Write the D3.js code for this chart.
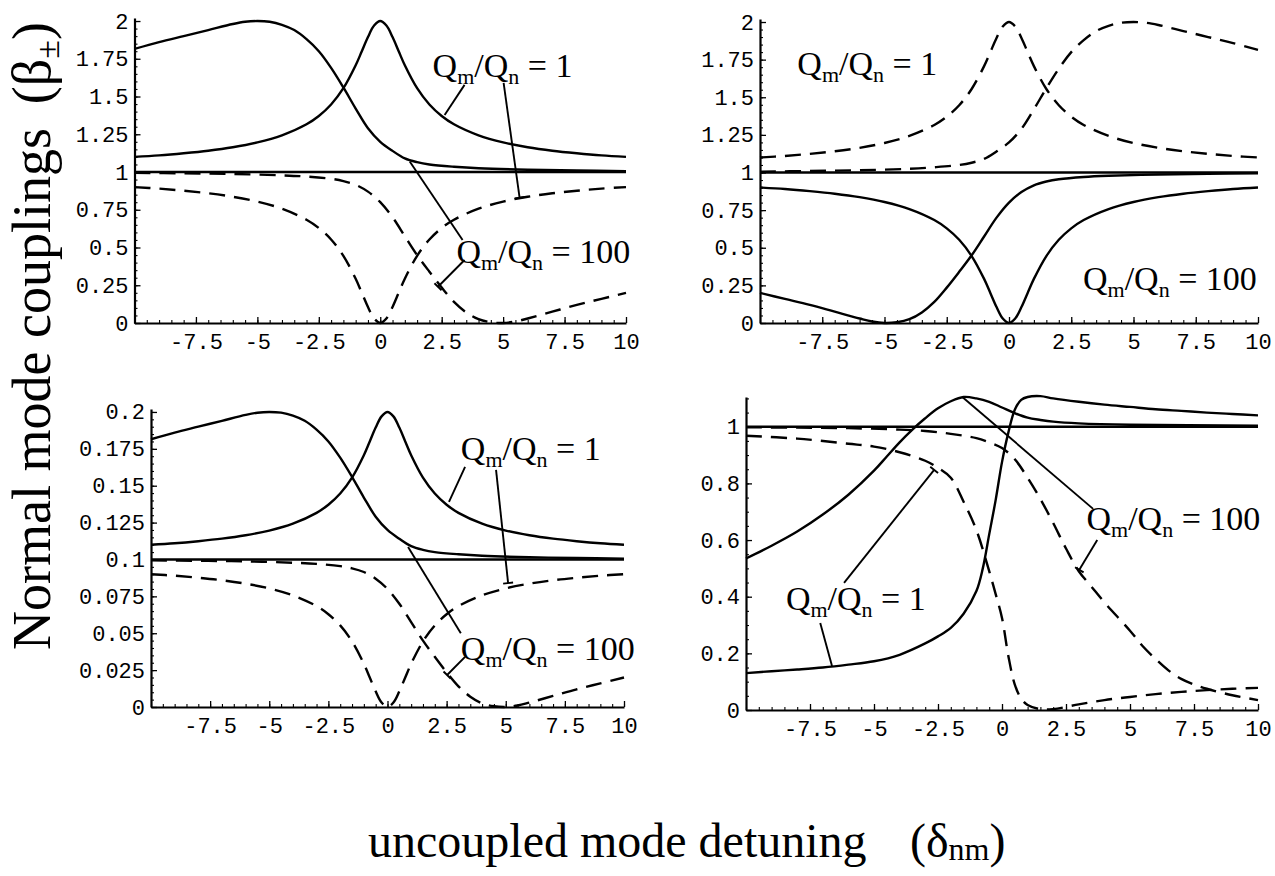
<!DOCTYPE html>
<html>
<head>
<meta charset="utf-8">
<script src="https://cdn.jsdelivr.net/npm/d3@7"></script>
<style>
  body { margin: 0; background: #fff; }
  svg { display: block; }
</style>
</head>
<body>
<svg id="chart" width="1275" height="876"></svg>
<script>
// ---------- detuning grids ----------
const xNarrow = [-10,-9,-8,-7,-6,-5,-4,-3,-2.5,-2,-1.5,-1,-0.75,-0.5,-0.25,0,0.25,0.5,0.75,1,1.5,2,2.5,3,4,5,6,7,8,9,10];
const xBroadL = [-10,-9,-8,-7,-6,-5.5,-5,-4.5,-4,-3.5,-3,-2.5,-2,-1.5,-1,-0.5,0,0.5,1,1.5,2,3,4,6,8,10];
const xBroadR = [-10,-8,-6,-4,-3,-2,-1.5,-1,-0.5,0,0.5,1,1.5,2,2.5,3,3.5,4,4.5,5,5.5,6,7,8,9,10];

// ---------- upper panels: couplings beta_+ / beta_- ----------
const tlUpperNarrow = [1.100,1.110,1.124,1.141,1.164,1.196,1.243,1.316,1.371,1.447,1.555,1.707,1.800,1.894,1.970,2.000,1.970,1.894,1.800,1.707,1.555,1.447,1.371,1.316,1.243,1.196,1.164,1.141,1.124,1.110,1.100];
const tlLowerNarrow = [0.900,0.890,0.876,0.859,0.836,0.804,0.757,0.684,0.629,0.553,0.445,0.293,0.200,0.106,0.030,0.000,0.030,0.106,0.200,0.293,0.445,0.553,0.629,0.684,0.757,0.804,0.836,0.859,0.876,0.890,0.900];
const tlUpperBroad = [1.815,1.86,1.90,1.94,1.98,1.995,2.0,1.995,1.975,1.94,1.88,1.80,1.69,1.56,1.42,1.29,1.20,1.14,1.09,1.065,1.05,1.035,1.025,1.015,1.01,1.005];
const tlLowerBroad = [0.994,0.991,0.987,0.978,0.97,0.955,0.94,0.915,0.87,0.80,0.70,0.575,0.45,0.34,0.235,0.14,0.07,0.025,0.005,0.0,0.01,0.03,0.075,0.12,0.16,0.2];

const trUpperBroad = [1.005,1.01,1.015,1.025,1.035,1.05,1.065,1.09,1.14,1.20,1.29,1.42,1.56,1.69,1.80,1.88,1.94,1.975,1.995,2.0,1.995,1.98,1.94,1.90,1.86,1.815];
const trLowerBroad = [0.2,0.16,0.12,0.075,0.03,0.01,0.0,0.005,0.025,0.07,0.14,0.235,0.34,0.45,0.575,0.70,0.80,0.87,0.915,0.94,0.955,0.97,0.978,0.987,0.991,0.994];

// ---------- lower left panel ----------
const blUpperNarrow = [0.1100,0.1110,0.1124,0.1141,0.1164,0.1196,0.1243,0.1316,0.1371,0.1447,0.1555,0.1707,0.1800,0.1894,0.1970,0.2000,0.1970,0.1894,0.1800,0.1707,0.1555,0.1447,0.1371,0.1316,0.1243,0.1196,0.1164,0.1141,0.1124,0.1110,0.1100];
const blLowerNarrow = [0.0900,0.0890,0.0876,0.0859,0.0836,0.0804,0.0757,0.0684,0.0629,0.0553,0.0445,0.0293,0.0200,0.0106,0.0030,0.0000,0.0030,0.0106,0.0200,0.0293,0.0445,0.0553,0.0629,0.0684,0.0757,0.0804,0.0836,0.0859,0.0876,0.0890,0.0900];
const blUpperBroad = [0.1815,0.186,0.190,0.194,0.198,0.1995,0.200,0.1995,0.1975,0.194,0.188,0.180,0.169,0.156,0.142,0.129,0.120,0.114,0.109,0.1065,0.105,0.1035,0.1025,0.1015,0.101,0.1005];
const blLowerBroad = [0.0994,0.0991,0.0987,0.0978,0.097,0.0955,0.094,0.0915,0.087,0.080,0.070,0.0575,0.045,0.034,0.0235,0.014,0.007,0.0025,0.0005,0.0,0.001,0.003,0.0075,0.012,0.016,0.020];

// ---------- lower right panel ----------
const xBrS1 = [-10,-9,-8,-7,-6,-5,-4.5,-4,-3.5,-3,-2.5,-2,-1.5,-1,-0.5,0,0.5,1,1.5,2,3,5,10];
const brS1 = [0.535,0.58,0.63,0.69,0.76,0.845,0.895,0.945,0.99,1.03,1.065,1.09,1.105,1.10,1.088,1.068,1.048,1.032,1.024,1.018,1.012,1.007,1.004];
const xBrS2 = [-10,-9,-8,-7,-6,-5,-4,-3,-2.5,-2,-1.5,-1,-0.75,-0.5,-0.25,0,0.25,0.5,0.75,1,1.5,2,3,4,5,6,7,8,9,10];
const brS2 = [0.13,0.137,0.143,0.15,0.16,0.172,0.195,0.235,0.26,0.29,0.34,0.42,0.5,0.62,0.74,0.875,0.98,1.06,1.095,1.105,1.108,1.10,1.088,1.078,1.07,1.062,1.056,1.05,1.045,1.04];
const xBrD1 = [-10,-8,-6,-5,-4,-3,-2.5,-2,-1.5,-1,-0.5,-0.25,0,0.25,0.5,0.75,1,1.5,2,3,4,5,6,7,8,9,10];
const brD1 = [0.968,0.958,0.94,0.93,0.91,0.88,0.855,0.82,0.735,0.635,0.49,0.41,0.325,0.19,0.09,0.04,0.018,0.003,0.003,0.02,0.035,0.046,0.056,0.064,0.07,0.075,0.078];
const xBrD2 = [-10,-8,-6,-4,-3,-2,-1,-0.5,0,0.5,1,1.5,2,2.5,3,3.5,4,5,5.5,6,6.5,7,7.5,8,9,10];
const brD2 = [0.998,0.997,0.995,0.99,0.985,0.975,0.96,0.945,0.925,0.885,0.82,0.745,0.66,0.57,0.49,0.435,0.38,0.28,0.225,0.18,0.14,0.11,0.09,0.075,0.052,0.035];

// ---------- ticks ----------
const xTicks = [-7.5,-5,-2.5,0,2.5,5,7.5,10];
const xTickLabels = ["-7.5","-5","-2.5","0","2.5","5","7.5","10"];
const yTicksBig = [0,0.25,0.5,0.75,1,1.25,1.5,1.75,2];
const yLabelsBig = ["0","0.25","0.5","0.75","1","1.25","1.5","1.75","2"];
const yTicksSmall = [0,0.025,0.05,0.075,0.1,0.125,0.15,0.175,0.2];
const yLabelsSmall = ["0","0.025","0.05","0.075","0.1","0.125","0.15","0.175","0.2"];
const yTicksBR = [0,0.2,0.4,0.6,0.8,1];
const yLabelsBR = ["0","0.2","0.4","0.6","0.8","1"];

// ---------- annotations (data coords): label anchors and pointer segments ----------
const labelsTL = [[2.13,1.63,"1"],[3.1,0.397,"100"]];
const labelsTR = [[-8.5,1.648,"1"],[2.97,0.22,"100"]];
const labelsBL = [[3.1,0.1675,"1"],[3.1,0.0319,"100"]];
const labelsBR = [[3.3,0.636,"100"],[-8.44,0.353,"1"]];
// [x1, y1, x2, y2, crossbar at end]
const pointersTL = [[3.43,1.577,2.62,1.377,0],[5.02,1.59,5.67,0.83,1],[1.2,1.07,3.35,0.55,0],[3.43,0.417,2.35,0.24,1]];
const pointersTR = [];
const pointersBL = [[3.28,0.1627,2.6,0.139,0],[4.59,0.1607,5.1,0.084,1],[0.87,0.1085,3.1,0.05,0],[3.28,0.034,2.52,0.0217,1]];
const pointersBR = [[-1.55,1.105,3.56,0.71,0],[3.72,0.6,3.02,0.495,1],[-6.17,0.449,-2.65,0.848,1],[-7.1,0.307,-6.64,0.155,0]];

const zip = (xs, ys) => xs.map((v, i) => [v, ys[i]]);

const panels = [
  { xRange: [134.5, 626], yDomain: [0, 2.02], yRange: [323, 18], yTicks: yTicksBig, yLabels: yLabelsBig, yMinor: 0.05, unity: 1,
    curves: [
      { pts: zip(xNarrow, tlUpperNarrow), dash: false },
      { pts: zip(xBroadL, tlUpperBroad), dash: false },
      { pts: zip(xNarrow, tlLowerNarrow), dash: true },
      { pts: zip(xBroadR, tlLowerBroad), dash: true } ],
    labels: labelsTL, pointers: pointersTL },
  { xRange: [760, 1258], yDomain: [0, 2.02], yRange: [323, 19], yTicks: yTicksBig, yLabels: yLabelsBig, yMinor: 0.05, unity: 1,
    curves: [
      { pts: zip(xNarrow, tlUpperNarrow), dash: true },
      { pts: zip(xBroadR, trUpperBroad), dash: true },
      { pts: zip(xNarrow, tlLowerNarrow), dash: false },
      { pts: zip(xBroadL, trLowerBroad), dash: false } ],
    labels: labelsTR, pointers: pointersTR },
  { xRange: [151, 624], yDomain: [0, 0.202], yRange: [707, 409], yTicks: yTicksSmall, yLabels: yLabelsSmall, yMinor: 0.005, unity: 0.1,
    curves: [
      { pts: zip(xNarrow, blUpperNarrow), dash: false },
      { pts: zip(xBroadL, blUpperBroad), dash: false },
      { pts: zip(xNarrow, blLowerNarrow), dash: true },
      { pts: zip(xBroadR, blLowerBroad), dash: true } ],
    labels: labelsBL, pointers: pointersBL },
  { xRange: [746, 1258], yDomain: [0, 1.105], yRange: [710, 397], yTicks: yTicksBR, yLabels: yLabelsBR, yMinor: 0.05, unity: 1,
    curves: [
      { pts: zip(xBrS1, brS1), dash: false },
      { pts: zip(xBrS2, brS2), dash: false },
      { pts: zip(xBrD1, brD1), dash: true },
      { pts: zip(xBrD2, brD2), dash: true } ],
    labels: labelsBR, pointers: pointersBR }
];

const svg = d3.select("#chart");
const MONO = "'Liberation Mono', 'DejaVu Sans Mono', monospace";
const SERIF = "'Liberation Serif', 'DejaVu Serif', serif";

function drawPanel(p) {
  const x = d3.scaleLinear().domain([-10, 10]).range(p.xRange);
  const y = d3.scaleLinear().domain(p.yDomain).range(p.yRange);
  const g = svg.append("g");

  // minor ticks
  const xMinor = d3.range(-10, 10.001, 0.5);
  const yMinor = d3.range(0, p.yDomain[1] + 1e-9, p.yMinor);
  g.append("g").attr("transform", `translate(0,${y(0)})`)
    .call(d3.axisBottom(x).tickValues(xMinor).tickSizeInner(-3).tickSizeOuter(0).tickFormat(""))
    .call(a => a.select(".domain").remove())
    .selectAll("line").attr("stroke-width", 1.1);
  g.append("g").attr("transform", `translate(${x(-10)},0)`)
    .call(d3.axisLeft(y).tickValues(yMinor).tickSizeInner(-3).tickSizeOuter(0).tickFormat(""))
    .call(a => a.select(".domain").remove())
    .selectAll("line").attr("stroke-width", 1.1);

  // major axes
  const xa = g.append("g").attr("transform", `translate(0,${y(0)})`)
    .call(d3.axisBottom(x).tickValues(xTicks).tickSizeInner(-6).tickSizeOuter(0).tickPadding(10)
      .tickFormat((d, i) => xTickLabels[i]));
  const ya = g.append("g").attr("transform", `translate(${x(-10)},0)`)
    .call(d3.axisLeft(y).tickValues(p.yTicks).tickSizeInner(-6).tickSizeOuter(0).tickPadding(6)
      .tickFormat((d, i) => p.yLabels[i]));
  [xa, ya].forEach(a => {
    a.select(".domain").attr("stroke-width", 2.2);
    a.selectAll(".tick line").attr("stroke-width", 1.3);
    a.selectAll("text").attr("font-family", MONO).attr("font-size", 22).attr("fill", "#000");
  });

  // reference line at the uncoupled level
  g.append("line")
    .attr("x1", x(-10)).attr("x2", x(10))
    .attr("y1", y(p.unity)).attr("y2", y(p.unity))
    .attr("stroke", "#000").attr("stroke-width", 2.3);

  const line = d3.line().x(d => x(d[0])).y(d => y(d[1])).curve(d3.curveCatmullRom.alpha(0.5));
  p.curves.forEach(c => {
    g.append("path").datum(c.pts)
      .attr("d", line)
      .attr("fill", "none")
      .attr("stroke", "#000")
      .attr("stroke-width", 2.4)
      .attr("stroke-dasharray", c.dash ? "16,9" : null);
  });

  // pointers
  p.pointers.forEach(q => {
    const x1 = x(q[0]), y1 = y(q[1]), x2 = x(q[2]), y2 = y(q[3]);
    g.append("line").attr("x1", x1).attr("y1", y1).attr("x2", x2).attr("y2", y2)
      .attr("stroke", "#000").attr("stroke-width", 1.9);
    if (q[4]) {
      const dx = x2 - x1, dy = y2 - y1, len = Math.hypot(dx, dy);
      const nx = -dy / len * 5, ny = dx / len * 5;
      g.append("line").attr("x1", x2 - nx).attr("y1", y2 - ny).attr("x2", x2 + nx).attr("y2", y2 + ny)
        .attr("stroke", "#000").attr("stroke-width", 1.9);
    }
  });

  // ratio labels
  p.labels.forEach(l => {
    const t = g.append("text").attr("x", x(l[0])).attr("y", y(l[1]))
      .attr("font-family", SERIF).attr("font-size", 34).attr("fill", "#000");
    t.append("tspan").text("Q");
    t.append("tspan").attr("font-size", 22).attr("dy", 7).text("m");
    t.append("tspan").attr("dy", -7).text("/Q");
    t.append("tspan").attr("font-size", 22).attr("dy", 7).text("n");
    t.append("tspan").attr("dy", -7).text(" = " + l[2]);
  });
}

panels.forEach(drawPanel);

// axis titles
svg.append("text")
  .attr("transform", "translate(50,650) rotate(-90)")
  .attr("font-family", SERIF).attr("font-size", 54).attr("fill", "#000")
  .text("Normal mode couplings");
const yt2 = svg.append("text")
  .attr("transform", "translate(50,22) rotate(-90)")
  .attr("text-anchor", "end")
  .attr("font-family", SERIF).attr("font-size", 54).attr("fill", "#000");
yt2.append("tspan").text("(β");
yt2.append("tspan").attr("font-size", 34).attr("dy", 9).text("±");
yt2.append("tspan").attr("dy", -9).text(")");

svg.append("text")
  .attr("x", 368).attr("y", 857)
  .attr("font-family", SERIF).attr("font-size", 48).attr("fill", "#000")
  .text("uncoupled mode detuning");
const xt2 = svg.append("text")
  .attr("x", 910).attr("y", 857)
  .attr("font-family", SERIF).attr("font-size", 48).attr("fill", "#000");
xt2.append("tspan").text("(δ");
xt2.append("tspan").attr("font-size", 32).attr("dy", 3).text("nm");
xt2.append("tspan").attr("dy", -3).text(")");
</script>
</body>
</html>
